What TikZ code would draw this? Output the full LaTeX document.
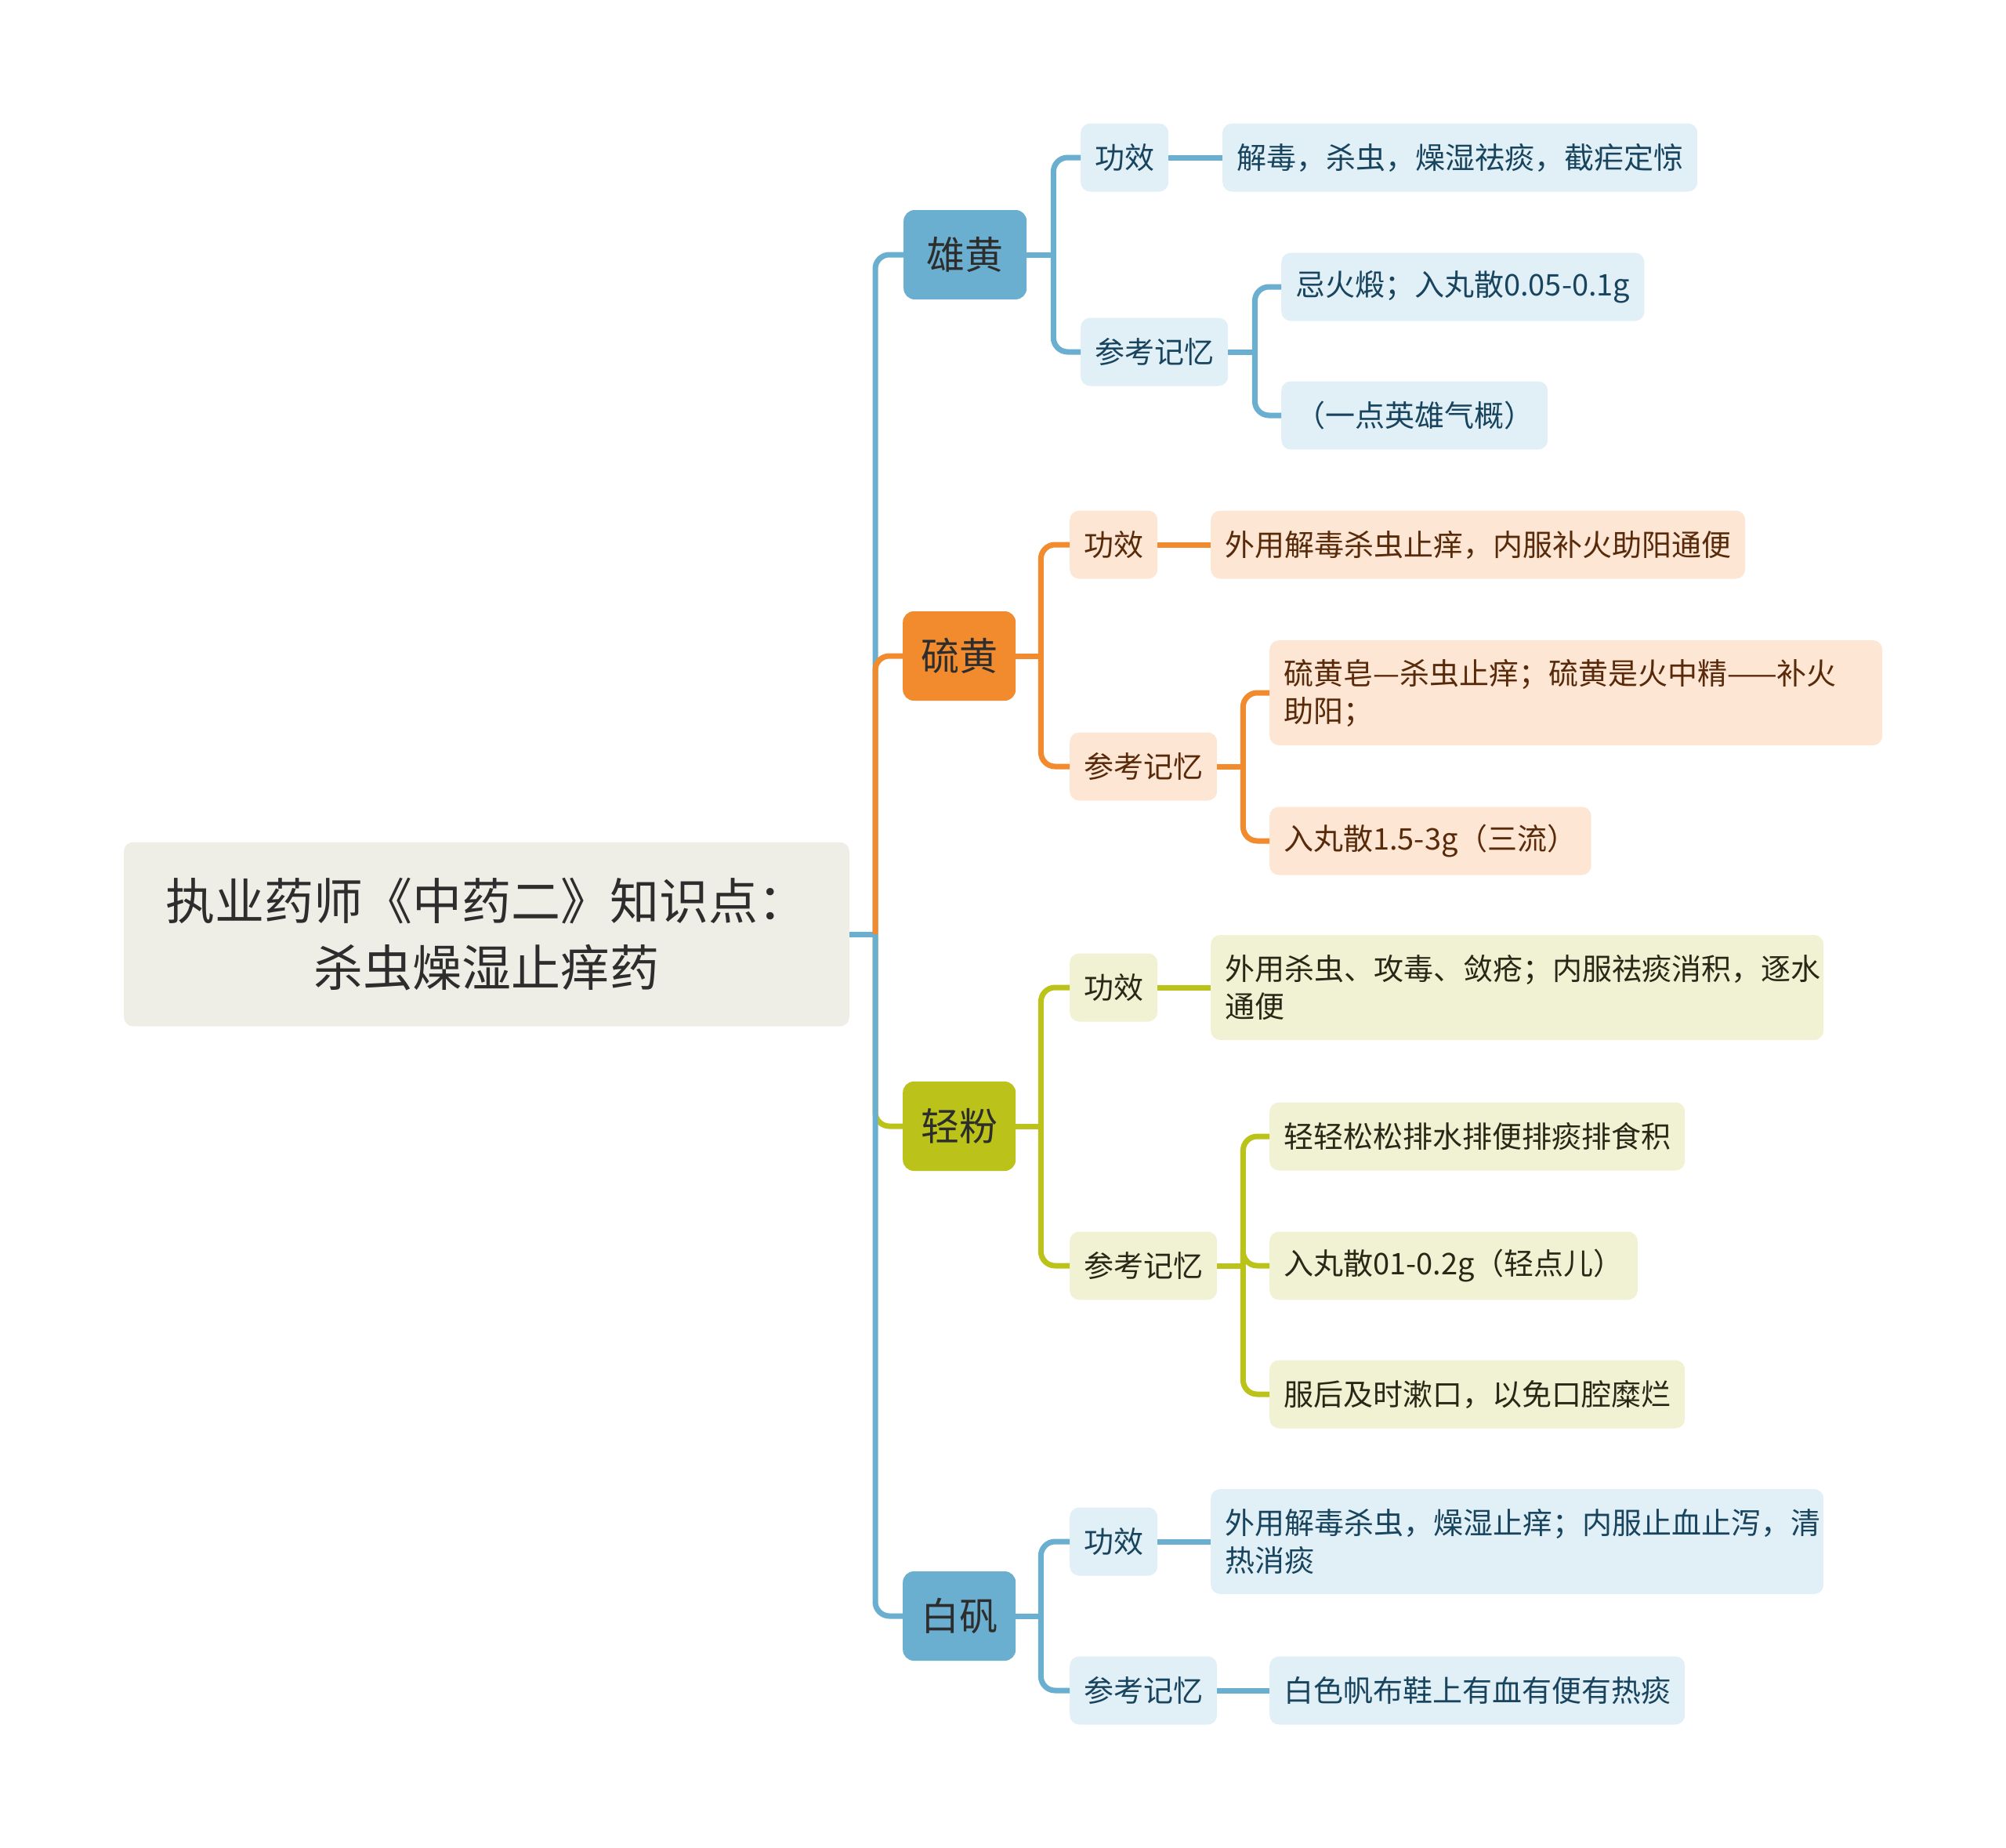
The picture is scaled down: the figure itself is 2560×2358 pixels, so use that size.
\documentclass[tikz,border=0pt]{standalone}
\usepackage{fontspec}
\setmainfont{Noto Sans CJK SC}
\usetikzlibrary{positioning}
\definecolor{blueline}{RGB}{106,174,208}
\definecolor{bluefill}{RGB}{225,239,247}
\definecolor{bluetext}{RGB}{24,68,94}
\definecolor{orangeline}{RGB}{242,138,46}
\definecolor{orangefill}{RGB}{253,230,212}
\definecolor{orangetext}{RGB}{88,42,10}
\definecolor{oliveline}{RGB}{187,195,26}
\definecolor{olivefill}{RGB}{241,242,212}
\definecolor{olivetext}{RGB}{40,40,22}
\definecolor{rootfill}{RGB}{239,238,230}
\definecolor{darktext}{RGB}{45,45,45}

\begin{document}
\begin{tikzpicture}[
    x=1pt,y=-1pt,
    conn/.style={line width=7pt,rounded corners=18pt},
    rootbox/.style={fill=rootfill,rounded corners=12pt,minimum width=926pt,minimum height=235pt,align=center,text=darktext,font=\fontsize{63}{85}\selectfont},
    topic/.style={fill=#1line,rounded corners=14pt,minimum width=144pt,minimum height=114pt,anchor=west,text=darktext,font=\fontsize{49}{58}\selectfont},
    sub/.style={fill=#1fill,text=#1text,rounded corners=12pt,minimum height=87pt,inner xsep=18pt,anchor=west,font=\fontsize{38}{48}\selectfont},
    leaf/.style={sub=#1,align=left}
  ]
  \useasboundingbox (0,0) rectangle (2560,2358);

  \node[rootbox] (root) at (621,1192) {执业药师《中药二》知识点：\\杀虫燥湿止痒药};

  \node[topic=blue,minimum width=157pt] (xh) at (1153,325) {雄黄};
  \node[topic=orange] (lh) at (1152,837) {硫黄};
  \node[topic=olive] (qf) at (1152,1437) {轻粉};
  \node[topic=blue] (bf) at (1152,2062) {白矾};

  % 雄黄
  \node[sub=blue] (xh-gx) at (1379,201) {功效};
  \node[sub=blue] (xh-ck) at (1379,449) {参考记忆};
  \node[leaf=blue] (xh-gx1) at (1560,201) {解毒，杀虫，燥湿祛痰，截疟定惊};
  \node[leaf=blue] (xh-ck1) at (1635,366) {忌火煅；入丸散0.05-0.1g};
  \node[leaf=blue] (xh-ck2) at (1635,530) {（一点英雄气概）};

  % 硫黄
  \node[sub=orange] (lh-gx) at (1365,695) {功效};
  \node[sub=orange] (lh-ck) at (1365,978) {参考记忆};
  \node[leaf=orange] (lh-gx1) at (1545,695) {外用解毒杀虫止痒，内服补火助阳通便};
  \node[leaf=orange,text width=746pt,minimum height=134pt] (lh-ck1) at (1620,884) {硫黄皂—杀虫止痒；硫黄是火中精——补火\\助阳；};
  \node[leaf=orange] (lh-ck2) at (1620,1073) {入丸散1.5-3g（三流）};

  % 轻粉
  \node[sub=olive] (qf-gx) at (1365,1260) {功效};
  \node[sub=olive] (qf-ck) at (1365,1615) {参考记忆};
  \node[leaf=olive,text width=746pt,minimum height=134pt] (qf-gx1) at (1545,1260) {外用杀虫、攻毒、敛疮；内服祛痰消积，逐水\\通便};
  \node[leaf=olive] (qf-ck1) at (1620,1450) {轻轻松松排水排便排痰排食积};
  \node[leaf=olive] (qf-ck2) at (1620,1615) {入丸散01-0.2g（轻点儿）};
  \node[leaf=olive] (qf-ck3) at (1620,1779) {服后及时漱口，以免口腔糜烂};

  % 白矾
  \node[sub=blue] (bf-gx) at (1365,1967) {功效};
  \node[sub=blue] (bf-ck) at (1365,2157) {参考记忆};
  \node[leaf=blue,text width=746pt,minimum height=134pt] (bf-gx1) at (1545,1967) {外用解毒杀虫，燥湿止痒；内服止血止泻，清\\热消痰};
  \node[leaf=blue] (bf-ck1) at (1620,2157) {白色帆布鞋上有血有便有热痰};

  % trunk
  \coordinate (hub) at (1117,1192);
  \draw[conn,blueline] (root.east) -- (hub);
  \draw[conn,blueline] (hub) |- (xh.west);
  \draw[conn,orangeline] (hub) |- (lh.west);
  \draw[conn,oliveline] (hub) |- (qf.west);
  \draw[conn,blueline] (hub) |- (bf.west);

  % 雄黄 links
  \draw[conn,blueline] (xh.east) -- ++(34,0) coordinate (xh-j);
  \draw[conn,blueline] (xh-j) |- (xh-gx.west);
  \draw[conn,blueline] (xh-j) |- (xh-ck.west);
  \draw[conn,blueline] (xh-gx.east) -- (xh-gx1.west);
  \draw[conn,blueline] (xh-ck.east) -- ++(34,0) coordinate (xh-k);
  \draw[conn,blueline] (xh-k) |- (xh-ck1.west);
  \draw[conn,blueline] (xh-k) |- (xh-ck2.west);

  % 硫黄 links
  \draw[conn,orangeline] (lh.east) -- ++(32,0) coordinate (lh-j);
  \draw[conn,orangeline] (lh-j) |- (lh-gx.west);
  \draw[conn,orangeline] (lh-j) |- (lh-ck.west);
  \draw[conn,orangeline] (lh-gx.east) -- (lh-gx1.west);
  \draw[conn,orangeline] (lh-ck.east) -- ++(33,0) coordinate (lh-k);
  \draw[conn,orangeline] (lh-k) |- (lh-ck1.west);
  \draw[conn,orangeline] (lh-k) |- (lh-ck2.west);

  % 轻粉 links
  \draw[conn,oliveline] (qf.east) -- ++(32,0) coordinate (qf-j);
  \draw[conn,oliveline] (qf-j) |- (qf-gx.west);
  \draw[conn,oliveline] (qf-j) |- (qf-ck.west);
  \draw[conn,oliveline] (qf-gx.east) -- (qf-gx1.west);
  \draw[conn,oliveline] (qf-ck.east) -- ++(33,0) coordinate (qf-k);
  \draw[conn,oliveline] (qf-k) |- (qf-ck1.west);
  \draw[conn,oliveline] (qf-k) |- (qf-ck2.west);
  \draw[conn,oliveline] (qf-k) |- (qf-ck3.west);

  % 白矾 links
  \draw[conn,blueline] (bf.east) -- ++(32,0) coordinate (bf-j);
  \draw[conn,blueline] (bf-j) |- (bf-gx.west);
  \draw[conn,blueline] (bf-j) |- (bf-ck.west);
  \draw[conn,blueline] (bf-gx.east) -- (bf-gx1.west);
  \draw[conn,blueline] (bf-ck.east) -- (bf-ck1.west);
\end{tikzpicture}
\end{document}
